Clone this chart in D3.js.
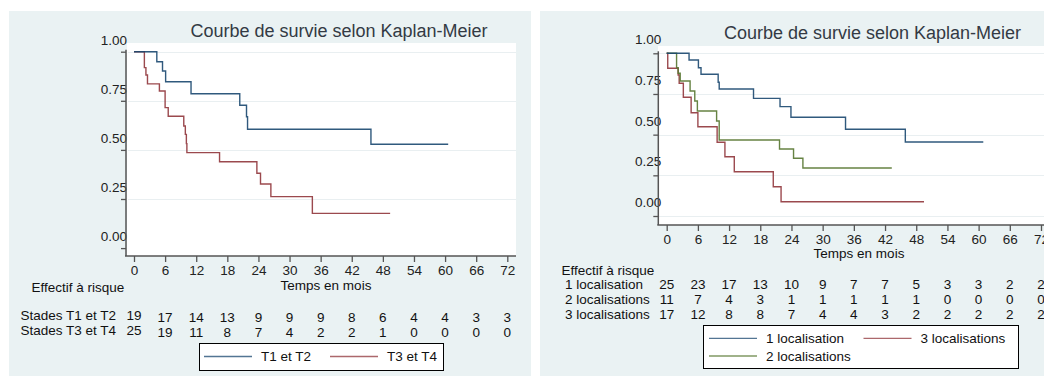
<!DOCTYPE html>
<html>
<head>
<meta charset="utf-8">
<script src="https://cdn.jsdelivr.net/npm/d3@7"></script>
<style>
  html, body { margin: 0; padding: 0; background: #fff; }
  svg { display: block; font-family: "Liberation Sans", Arial, sans-serif; }
</style>
</head>
<body>
<svg id="chart" width="1044" height="376"></svg>
<script>
// ---------- DATA ----------
const monthTicks = [0, 6, 12, 18, 24, 30, 36, 42, 48, 54, 60, 66, 72];
const survTicks = [0, 0.25, 0.5, 0.75, 1];
const chartTitle = "Courbe de survie selon Kaplan-Meier";
const xTitle = "Temps en mois";
const riskTitle = "Effectif à risque";

// Left chart: stades
const stadeNames = ["Stades T1 et T2", "Stades T3 et T4"];
const stadeLegend = ["T1 et T2", "T3 et T4"];
const t12Times = [0, 4.4, 5.5, 6.1, 11.0, 20.4, 21.7, 21.9, 45.7, 60.6];
const t12Surv  = [1, 0.949, 0.902, 0.847, 0.786, 0.727, 0.669, 0.605, 0.529, 0.529];
const t34Times = [0, 2.0, 2.3, 2.6, 4.9, 6.0, 6.6, 9.6, 9.9, 10.1, 10.2, 16.5, 23.7, 24.4, 26.4, 34.4, 49.4];
const t34Surv  = [1, 0.919, 0.881, 0.836, 0.800, 0.715, 0.671, 0.622, 0.579, 0.532, 0.486, 0.440, 0.381, 0.326, 0.262, 0.177, 0.177];
const t12Risk = [19, 17, 14, 13, 9, 9, 9, 8, 6, 4, 4, 3, 3];
const t34Risk = [25, 19, 11, 8, 7, 4, 2, 2, 1, 0, 0, 0, 0];

// Right chart: localisations
const locNames = ["1 localisation", "2 localisations", "3 localisations"];
const loc1Times = [0, 4.3, 6.1, 6.6, 9.9, 10.1, 16.7, 21.8, 23.9, 34.4, 45.9, 60.9];
const loc1Surv  = [1, 0.959, 0.911, 0.871, 0.822, 0.781, 0.723, 0.672, 0.607, 0.533, 0.455, 0.455];
const loc2Times = [0, 1.9, 2.2, 2.6, 4.5, 5.4, 5.9, 9.6, 10.1, 21.7, 24.4, 26.2, 43.3];
const loc2Surv  = [1, 0.911, 0.877, 0.830, 0.768, 0.707, 0.645, 0.584, 0.467, 0.412, 0.355, 0.295, 0.295];
const loc3Times = [0, 0.2, 2.2, 2.4, 3.2, 4.7, 6.0, 9.7, 11.2, 13.0, 20.5, 22.0, 49.5];
const loc3Surv  = [1, 0.908, 0.867, 0.816, 0.730, 0.635, 0.549, 0.453, 0.364, 0.272, 0.180, 0.088, 0.088];
const loc1Risk = [25, 23, 17, 13, 10, 9, 7, 7, 5, 3, 3, 2, 2];
const loc2Risk = [11, 7, 4, 3, 1, 1, 1, 1, 1, 0, 0, 0, 0];
const loc3Risk = [17, 12, 8, 8, 7, 4, 4, 3, 2, 2, 2, 2, 2];

// ---------- STYLE ----------
const BLUE = "#1a476f", RED = "#90353b", GREEN = "#55752f";
const BG = "#eaf2f3";
const FS = 13.5;

const svg = d3.select("#chart");
const zip = (ts, ss) => ts.map((t, i) => ({ t, s: ss[i] }));

function panel(cfg) {
  const g = svg.append("g");
  // panel background
  g.append("rect").attr("x", cfg.bg[0]).attr("y", cfg.bg[1])
    .attr("width", cfg.bg[2]).attr("height", cfg.bg[3]).attr("fill", BG);
  // plot region
  g.append("rect").attr("x", cfg.plot[0]).attr("y", cfg.plot[1])
    .attr("width", cfg.plot[2]).attr("height", cfg.plot[3]).attr("fill", "#fff");

  const x = d3.scaleLinear().domain([0, 72]).range(cfg.xr);
  const y = d3.scaleLinear().domain([0, 1]).range(cfg.yr);

  // gridlines
  g.append("g").selectAll("line").data(cfg.gridTicks).join("line")
    .attr("x1", cfg.plot[0] + 1).attr("x2", cfg.plot[0] + cfg.plot[2])
    .attr("y1", d => Math.round(y(d)) + 0.5).attr("y2", d => Math.round(y(d)) + 0.5)
    .attr("stroke", "#e9eff1").attr("stroke-width", 1.2);

  // title
  g.append("text").attr("x", cfg.titlePos[0]).attr("y", cfg.titlePos[1])
    .attr("text-anchor", "middle").attr("dominant-baseline", "central")
    .attr("font-size", 18).attr("fill", "#333a44").text(chartTitle);

  // y axis
  const ya = g.append("g").attr("transform", `translate(${cfg.axisX},0)`)
    .call(d3.axisLeft(y).tickValues(survTicks).tickFormat(d3.format(".2f"))
      .tickSize(5).tickSizeOuter(0).tickPadding(0));
  ya.select(".domain").remove();
  ya.selectAll(".tick line").attr("stroke", "#555").attr("stroke-width", 1.3);
  ya.selectAll(".tick text").attr("font-size", FS).attr("fill", "#222")
    .attr("font-family", "Liberation Sans, Arial, sans-serif")
    .attr("x", cfg.yLabelX).attr("dy", null).attr("dominant-baseline", "central")
    .attr("y", cfg.yLabelOffset);
  g.append("line").attr("x1", cfg.axisX).attr("x2", cfg.axisX)
    .attr("y1", y(1) - 2).attr("y2", cfg.axisY)
    .attr("stroke", "#555").attr("stroke-width", 1.5);

  // x axis
  const xa = g.append("g").attr("transform", `translate(0,${cfg.axisY})`)
    .call(d3.axisBottom(x).tickValues(monthTicks).tickFormat(d3.format("d"))
      .tickSize(6).tickSizeOuter(0).tickPadding(0));
  xa.select(".domain").remove();
  xa.selectAll(".tick line").attr("stroke", "#555").attr("stroke-width", 1.3);
  xa.selectAll(".tick text").attr("font-size", FS).attr("fill", "#222")
    .attr("font-family", "Liberation Sans, Arial, sans-serif")
    .attr("dy", null).attr("dominant-baseline", "central").attr("y", cfg.xLabelDy);
  g.append("line").attr("x1", cfg.axisX - 1).attr("x2", cfg.plot[0] + cfg.plot[2])
    .attr("y1", cfg.axisY).attr("y2", cfg.axisY)
    .attr("stroke", "#555").attr("stroke-width", 1.5);

  // x title
  g.append("text").attr("x", cfg.xTitlePos[0]).attr("y", cfg.xTitlePos[1])
    .attr("text-anchor", "middle").attr("dominant-baseline", "central")
    .attr("font-size", FS).attr("fill", "#111").text(xTitle);

  // curves
  const line = d3.line().x(d => x(d.t)).y(d => y(d.s)).curve(d3.curveStepAfter);
  cfg.series.forEach(sr => {
    g.append("path").datum(zip(sr.times, sr.surv)).attr("d", line)
      .attr("fill", "none").attr("stroke", sr.color).attr("stroke-width", 1.4)
      .attr("stroke-opacity", 0.9);
  });

  // risk table
  g.append("text").attr("x", cfg.riskTitlePos[0]).attr("y", cfg.riskTitlePos[1])
    .attr("dominant-baseline", "central").attr("font-size", FS).attr("fill", "#111")
    .text(riskTitle);
  cfg.rows.forEach(r => {
    g.append("text").attr("x", cfg.rowLabelX).attr("y", r.y + cfg.firstDy)
      .attr("dominant-baseline", "central").attr("font-size", FS).attr("fill", "#111")
      .text(r.name);
    g.append("g").selectAll("text").data(r.risk).join("text")
      .attr("x", (d, i) => x(monthTicks[i]))
      .attr("y", (d, i) => i === 0 ? r.y + cfg.firstDy : r.y)
      .attr("text-anchor", "middle").attr("dominant-baseline", "central")
      .attr("font-size", FS).attr("fill", "#111").text(d => d);
  });

  // legend
  const L = cfg.legend;
  const lg = g.append("g");
  lg.append("rect").attr("x", L.box[0] + 0.5).attr("y", L.box[1] + 0.5)
    .attr("width", L.box[2]).attr("height", L.box[3])
    .attr("fill", "#fff").attr("stroke", "#000").attr("stroke-width", 1);
  const clipId = "clip" + Math.round(L.box[0]);
  svg.append("defs").append("clipPath").attr("id", clipId).append("rect")
    .attr("x", L.box[0]).attr("y", L.box[1]).attr("width", L.clipW).attr("height", L.box[3]);
  const items = lg.append("g").attr("clip-path", `url(#${clipId})`);
  L.items.forEach(it => {
    items.append("line").attr("x1", it.x).attr("x2", it.x + 48)
      .attr("y1", it.y).attr("y2", it.y)
      .attr("stroke", it.color).attr("stroke-width", 1.3).attr("stroke-opacity", 0.75);
    items.append("text").attr("x", it.x + 57).attr("y", it.y)
      .attr("dominant-baseline", "central").attr("font-size", FS).attr("fill", "#111")
      .text(it.label);
  });
}

// ---------- LEFT PANEL ----------
panel({
  bg: [9, 11, 522, 365],
  plot: [127, 43, 389, 213],
  xr: [134, 507.3],
  yr: [248.1, 51.7],
  gridTicks: [0.25, 0.5, 0.75, 1],
  axisX: 126, axisY: 256,
  yLabelX: 1, yLabelOffset: -12,
  xLabelDy: 14,
  titlePos: [339, 31],
  xTitlePos: [326, 285],
  riskTitlePos: [31.5, 287.5],
  rowLabelX: 20.5, firstDy: -2,
  rows: [
    { name: stadeNames[0], risk: t12Risk, y: 317.5 },
    { name: stadeNames[1], risk: t34Risk, y: 332.5 }
  ],
  series: [
    { times: t34Times, surv: t34Surv, color: RED },
    { times: t12Times, surv: t12Surv, color: BLUE }
  ],
  legend: {
    box: [199, 343, 244, 27], clipW: 244,
    items: [
      { x: 204, y: 356.5, color: BLUE, label: stadeLegend[0] },
      { x: 330, y: 356.5, color: RED, label: stadeLegend[1] }
    ]
  }
});

// ---------- RIGHT PANEL ----------
panel({
  bg: [540, 11, 504, 365],
  plot: [658, 46, 386, 179],
  xr: [666.7, 1041],
  yr: [216, 53.3],
  gridTicks: [0, 0.25, 0.5, 0.75, 1],
  axisX: 658.3, axisY: 225,
  yLabelX: 3, yLabelOffset: -14,
  xLabelDy: 14.5,
  titlePos: [872.5, 33.3],
  xTitlePos: [859, 253.5],
  riskTitlePos: [561.5, 270],
  rowLabelX: 565, firstDy: 0,
  rows: [
    { name: locNames[0], risk: loc1Risk, y: 284.3 },
    { name: locNames[1], risk: loc2Risk, y: 299 },
    { name: locNames[2], risk: loc3Risk, y: 314 }
  ],
  series: [
    { times: loc3Times, surv: loc3Surv, color: RED },
    { times: loc2Times, surv: loc2Surv, color: GREEN },
    { times: loc1Times, surv: loc1Surv, color: BLUE }
  ],
  legend: {
    box: [703, 325, 315, 43], clipW: 303,
    items: [
      { x: 709, y: 338.3, color: BLUE, label: locNames[0] },
      { x: 863.5, y: 338.3, color: RED, label: locNames[2] },
      { x: 709, y: 356, color: GREEN, label: locNames[1] }
    ]
  }
});
</script>
</body>
</html>
